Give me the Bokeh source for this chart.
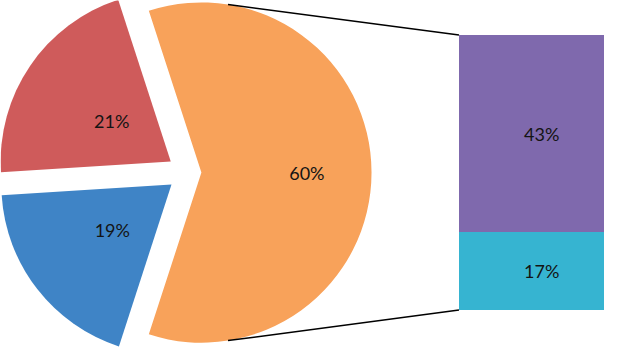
import math
from bokeh.plotting import figure
from bokeh.models import Range1d, ColumnDataSource
from bokeh.core.properties import value
from bokeh.embed import file_html
from bokeh.resources import INLINE

# ---- data ----
pie_names = ["Other", "Red", "Blue"]
pie_values = [60, 21, 19]
pie_labels = ["60%", "21%", "19%"]
pie_colors = ["#F8A25A", "#CF5B5B", "#3F84C6"]

bar_names = ["Teal", "Purple"]
bar_values = [17, 43]
bar_labels = ["17%", "43%"]
bar_colors = ["#36B4D1", "#7F69AD"]

# ---- layout (reference pixel coords, y up) ----
W, H = 604, 347
k = 361.0 / H
p = figure(width=W, height=H, output_backend="svg", toolbar_location=None,
           x_range=Range1d(1, 1 + W * k), y_range=Range1d(1, 362),
           min_border=0, tools="")
p.axis.visible = False
p.grid.visible = False
p.outline_line_color = None
p.background_fill_color = "white"

cx, cy, R = 195.0, 183.0, 177.0
explode = [15.0, 20.4, 20.4]
label_frac = [0.62, 0.42, 0.44]

total = sum(pie_values)
start = -pie_values[0] / total * math.pi
xs, ys, sa, ea, lx, ly = [], [], [], [], [], []
a = start
for v, e, f in zip(pie_values, explode, label_frac):
    span = v / total * 2 * math.pi
    mid = a + span / 2
    ox, oy = cx + e * math.cos(mid), cy + e * math.sin(mid)
    xs.append(ox); ys.append(oy); sa.append(a); ea.append(a + span)
    lx.append(ox + R * f * math.cos(mid)); ly.append(oy + R * f * math.sin(mid))
    a += span

src = ColumnDataSource(dict(x=xs, y=ys, s=sa, e=ea, c=pie_colors, lx=lx, ly=ly, t=pie_labels))
p.wedge(x="x", y="y", radius=R, start_angle="s", end_angle="e", fill_color="c",
        line_color=None, source=src)

# bar of "other"
bx0, bx1 = 478.0, 660.0
bbot, btop = 40.0, 326.0
unit = (btop - bbot) / sum(bar_values)
bottoms, tops = [], []
acc = bbot
for v in bar_values:
    bottoms.append(acc); acc += v * unit; tops.append(acc)
bsrc = ColumnDataSource(dict(l=[bx0] * len(bar_values), r=[bx1] * len(bar_values),
                             b=bottoms, t=tops, c=bar_colors,
                             lx=[564.0] * len(bar_values),
                             ly=[(b + t) / 2 for b, t in zip(bottoms, tops)],
                             txt=bar_labels))
p.quad(left="l", right="r", bottom="b", top="t", fill_color="c", line_color=None, source=bsrc)

# connector lines from the exploded "other" slice to the bar
ox, oy = xs[0], ys[0]
ang = math.radians(81)
p.line([ox + R * math.cos(ang), bx0], [oy + R * math.sin(ang), btop], line_color="black", line_width=1.5)
p.line([ox + R * math.cos(-ang), bx0], [oy + R * math.sin(-ang), bbot], line_color="black", line_width=1.5)

p.text(x="lx", y="ly", text="t", source=src, text_align="center", text_baseline="middle",
       text_font=value("Lato"), text_font_size="18px", text_color="#141414")
p.text(x="lx", y="ly", text="txt", source=bsrc, text_align="center", text_baseline="middle",
       text_font=value("Lato"), text_font_size="18px", text_color="#141414")

open("out.html", "w").write(file_html(p, INLINE))
